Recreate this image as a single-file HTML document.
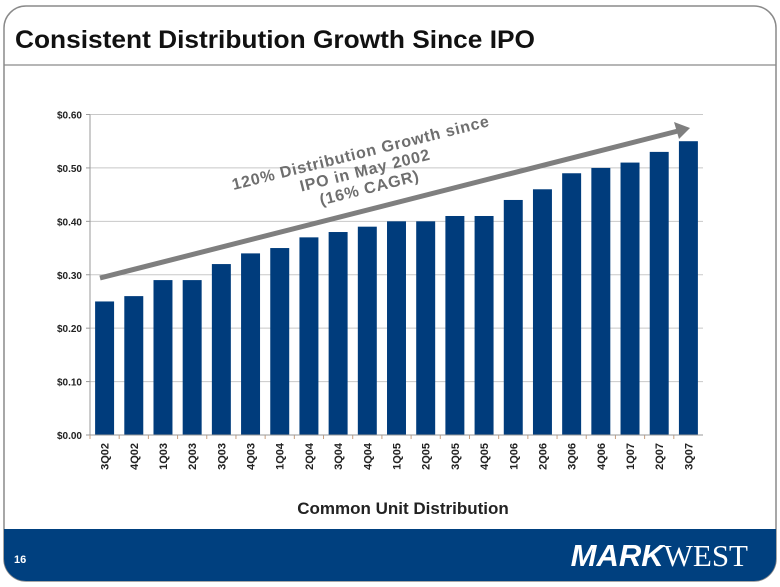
<!DOCTYPE html>
<html><head><meta charset="utf-8"><style>
html,body{margin:0;padding:0;background:#fff;}
svg{display:block;font-family:"Liberation Sans",Arial,sans-serif;}
</style></head><body>
<svg id="c" width="780" height="587" viewBox="0 0 780 587" xmlns="http://www.w3.org/2000/svg">
<defs><clipPath id="fc"><rect x="4" y="6" width="772" height="575" rx="22"/></clipPath></defs>
<rect x="4" y="6" width="772" height="575" rx="22" fill="#fff" stroke="#8a8a8a" stroke-width="1.5"/>
<text x="15" y="48" font-size="25" font-weight="bold" fill="#111" textLength="520" lengthAdjust="spacingAndGlyphs">Consistent Distribution Growth Since IPO</text>
<line x1="4" y1="65" x2="776" y2="65" stroke="#8a8a8a" stroke-width="1.2"/>
<g id="plot"></g>
<text x="403" y="514" text-anchor="middle" font-size="17" font-weight="bold" fill="#222">Common Unit Distribution</text>
<g clip-path="url(#fc)"><rect x="0" y="529" width="780" height="60" fill="#00407f"/></g>
<text x="14" y="563" font-size="11" font-weight="bold" fill="#fff">16</text>
<text x="748" y="566" text-anchor="end" font-size="31" fill="#fff"><tspan font-weight="bold" font-style="italic">MARK</tspan><tspan font-family="Liberation Serif,serif">WEST</tspan></text>
</svg>
<script>
const categories=["3Q02","4Q02","1Q03","2Q03","3Q03","4Q03","1Q04","2Q04","3Q04","4Q04","1Q05","2Q05","3Q05","4Q05","1Q06","2Q06","3Q06","4Q06","1Q07","2Q07","3Q07"];
const values=[0.25,0.26,0.29,0.29,0.32,0.34,0.35,0.37,0.38,0.39,0.40,0.40,0.41,0.41,0.44,0.46,0.49,0.50,0.51,0.53,0.55];
const ticks=[0,0.1,0.2,0.3,0.4,0.5,0.6];
const tickLabels=["$0.00","$0.10","$0.20","$0.30","$0.40","$0.50","$0.60"];
const NS="http://www.w3.org/2000/svg";
const g=document.getElementById('plot');
const X0=90,X1=703,Y0=435,Y1=114.5,VMAX=0.6;
const step=(X1-X0)/categories.length;
function y(v){return Y0-(v/VMAX)*(Y0-Y1);}
function xc(i){return X0+step*(i+0.5);}
function mk(t,a){const e=document.createElementNS(NS,t);for(const k in a)e.setAttribute(k,a[k]);g.appendChild(e);return e;}
ticks.forEach((t,i)=>{
 const l=mk('line',{x1:X0,x2:X1,y1:y(t),y2:y(t),stroke:'#c8c8c8','stroke-width':1});
 
 
 const tk=mk('line',{x1:X0-4,x2:X0,y1:y(t),y2:y(t),stroke:'#999'});
 
 
 const tx=mk('text',{x:X0-8,y:y(t)+4,'text-anchor':'end','font-size':10,'font-weight':'bold',fill:'#222'});
 tx.textContent=tickLabels[i];
 
 
});
const ax=mk('line',{x1:X0,x2:X0,y1:Y1,y2:Y0,stroke:'#999'});


const bw=step*0.65;
values.forEach((v,i)=>{
 const r=mk('rect',{x:xc(i)-bw/2,y:y(v),width:bw,height:Y0-y(v),fill:'#003c7c'});
 
 
 const tk=mk('line',{x1:X0+step*i,x2:X0+step*i,y1:Y0,y2:Y0+4,stroke:'#c8a080'});
 
 
 const tx=mk('text',{x:0,y:0,'text-anchor':'end','font-size':11,'font-weight':'bold',fill:'#222',transform:`translate(${xc(i)+4},${Y0+8}) rotate(-90)`});
 tx.textContent=categories[i];
 
 
});
const xa=mk('line',{x1:X0,x2:X1,y1:Y0,y2:Y0,stroke:'#999'});


const ar=mk('line',{x1:100,y1:278,x2:678,y2:131,stroke:'#7f7f7f','stroke-width':5});


const ah=mk('polygon',{points:'690,128 674,122 679,139',fill:'#7f7f7f'});


const an=mk('text',{x:0,y:0,'text-anchor':'middle','font-size':16,'font-weight':'bold','letter-spacing':'0.8',fill:'#6e6e6e',transform:'translate(362,158) rotate(-14)'});


["120% Distribution Growth since","IPO in May 2002","(16% CAGR)"].forEach((s,i)=>{const t=document.createElementNS(NS,'tspan');t.setAttribute('x',0);t.setAttribute('dy',i?18:0);t.textContent=s;an.appendChild(t);});
</script>
</body></html>
